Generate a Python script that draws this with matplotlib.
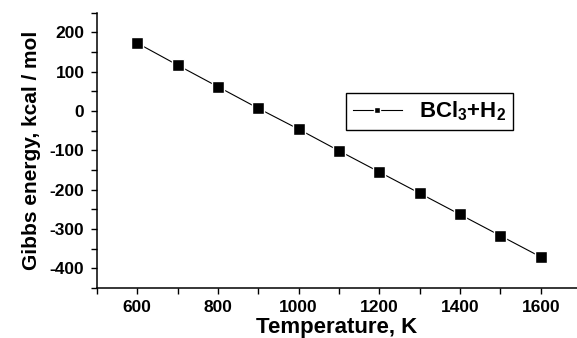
import matplotlib
matplotlib.use('Agg')
import matplotlib.pyplot as plt
from matplotlib.ticker import MultipleLocator

temperature = [600, 700, 800, 900, 1000, 1100, 1200, 1300, 1400, 1500, 1600]
gibbs = [173, 117, 62, 7, -46, -101, -155, -209, -263, -317, -371]
series_label = r'BCl$_3$+H$_2$'

plt.rcParams['font.family'] = ['Liberation Sans', 'DejaVu Sans']
plt.rcParams['font.weight'] = 'bold'
plt.rcParams['axes.unicode_minus'] = False
plt.rcParams['mathtext.fontset'] = 'custom'
plt.rcParams['mathtext.rm'] = 'Liberation Sans:bold'
plt.rcParams['mathtext.bf'] = 'Liberation Sans:bold'
plt.rcParams['mathtext.it'] = 'Liberation Sans:bold'
plt.rcParams['mathtext.default'] = 'bf'

fig = plt.figure(figsize=(5.77, 3.38), dpi=100)
ax = fig.add_axes([0.168, 0.148, 0.832, 0.814])

ax.plot(temperature, gibbs, color='black', linewidth=0.8, marker='s',
        markersize=9, markerfacecolor='black', markeredgecolor='white',
        markeredgewidth=1.0, label=series_label)

ax.set_xlim(500, 1690)
ax.set_ylim(-450, 250)
ax.xaxis.set_major_locator(MultipleLocator(200))
ax.xaxis.set_minor_locator(MultipleLocator(100))
ax.yaxis.set_major_locator(MultipleLocator(100))
ax.yaxis.set_minor_locator(MultipleLocator(50))

for s in ['top', 'right']:
    ax.spines[s].set_visible(False)
for s in ['left', 'bottom']:
    ax.spines[s].set_linewidth(1.1)

ax.tick_params(which='both', direction='out', length=4, width=1.0, labelsize=12.5, pad=5)
ax.set_xlabel('Temperature, K', fontsize=16, fontweight='bold', labelpad=1)
ax.set_ylabel('Gibbs energy, kcal / mol', fontsize=15, fontweight='bold', labelpad=6)

leg = ax.legend(loc='upper left', bbox_to_anchor=(0.519, 0.709), borderaxespad=0,
                fancybox=False, edgecolor='black', framealpha=1, fontsize=16,
                markerscale=0.5, handlelength=2.2, borderpad=0.3)
leg.get_frame().set_linewidth(1.0)

fig.savefig('out.png', dpi=100)
